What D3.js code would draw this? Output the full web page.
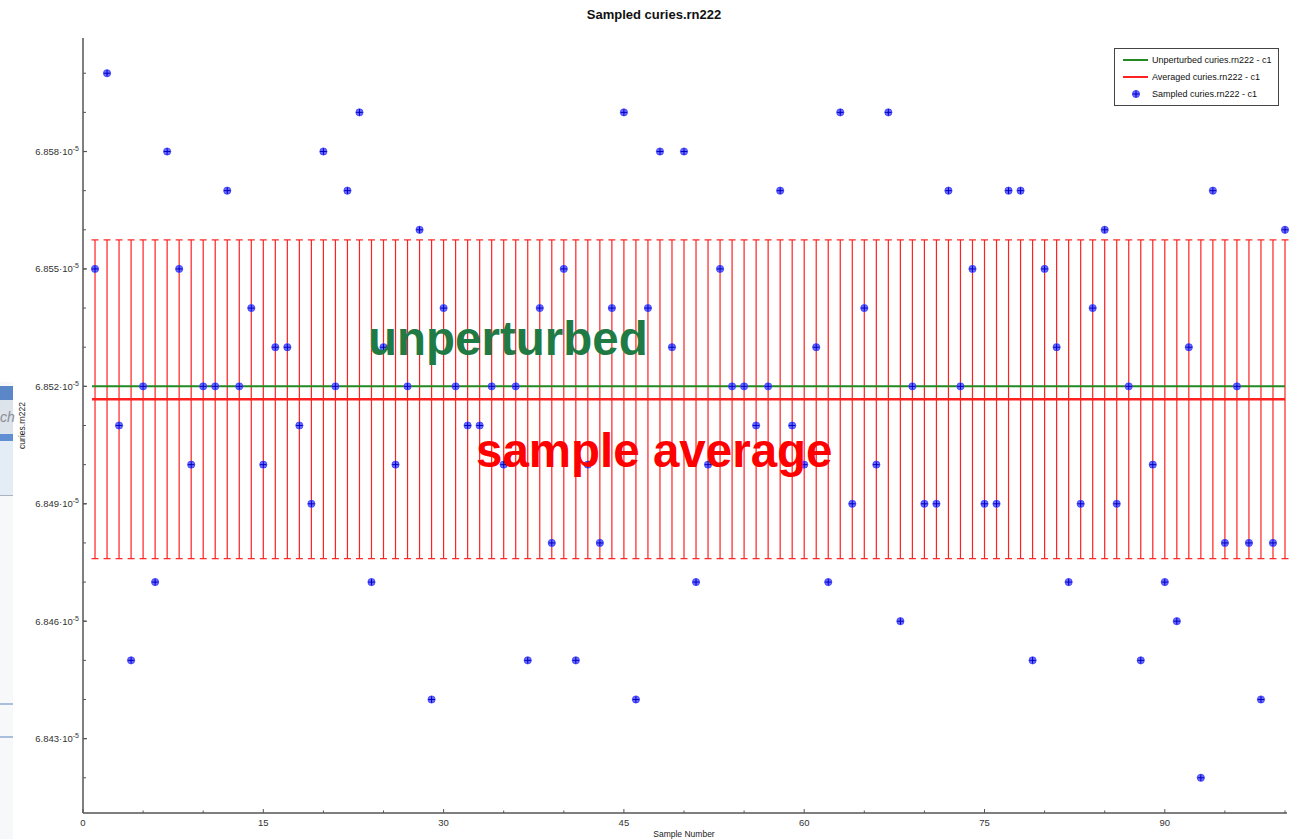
<!DOCTYPE html>
<html><head><meta charset="utf-8">
<script src="https://cdn.jsdelivr.net/npm/d3@7"></script>
<style>html,body{margin:0;padding:0;background:#fff;}svg{display:block;}</style>
</head><body>
<svg id="chart" width="1296" height="839"></svg>
<script>
// ---- data ----
const sampleNumbers = d3.range(1, 101);
// sampled values, mantissa in units of 1e-5
const sampled = [
6.855, 6.860, 6.851, 6.845, 6.852, 6.847, 6.858, 6.855, 6.850, 6.852,
6.852, 6.857, 6.852, 6.854, 6.850, 6.853, 6.853, 6.851, 6.849, 6.858,
6.852, 6.857, 6.859, 6.847, 6.853, 6.850, 6.852, 6.856, 6.844, 6.854,
6.852, 6.851, 6.851, 6.852, 6.850, 6.852, 6.845, 6.854, 6.848, 6.855,
6.845, 6.850, 6.848, 6.854, 6.859, 6.844, 6.854, 6.858, 6.853, 6.858,
6.847, 6.850, 6.855, 6.852, 6.852, 6.851, 6.852, 6.857, 6.851, 6.850,
6.853, 6.847, 6.859, 6.849, 6.854, 6.850, 6.859, 6.846, 6.852, 6.849,
6.849, 6.857, 6.852, 6.855, 6.849, 6.849, 6.857, 6.857, 6.845, 6.855,
6.853, 6.847, 6.849, 6.854, 6.856, 6.849, 6.852, 6.845, 6.850, 6.847,
6.846, 6.853, 6.842, 6.857, 6.848, 6.852, 6.848, 6.844, 6.848, 6.856];
const unperturbed = 6.852;
const yTickValues = [6.843, 6.846, 6.849, 6.852, 6.855, 6.858];
const xTickValues = [0, 15, 30, 45, 60, 75, 90];
const legendLabels = ["Unperturbed curies.rn222 - c1", "Averaged curies.rn222 - c1", "Sampled curies.rn222 - c1"];
const titleText = "Sampled curies.rn222";
const xLabel = "Sample Number";
const yLabel = "curies.rn222";

// derived statistics
const avg = d3.mean(sampled);
const std = Math.sqrt(d3.mean(sampled, v => (v - avg) * (v - avg)));

// ---- layout ----
const svg = d3.select("#chart");
const L = 83, R = 1285, T = 38, B = 813;
const x = d3.scaleLinear().domain([0, 100]).range([L, R]);
const ext = d3.extent(sampled), pad = (ext[1] - ext[0]) * 0.05;
const y = d3.scaleLinear().domain([ext[0] - pad, ext[1] + pad]).range([B, T]);
const FONT = "'Liberation Sans', Arial, sans-serif";

// left screenshot fragment
const frag = svg.append("g");
frag.append("rect").attr("x", 0).attr("y", 382).attr("width", 13).attr("height", 457).attr("fill", "#f7f8fa");
frag.append("rect").attr("x", 0).attr("y", 386).attr("width", 13).attr("height", 14).attr("fill", "#5b86c8");
frag.append("rect").attr("x", 0).attr("y", 400).attr("width", 13).attr("height", 34).attr("fill", "#dde3ea");
frag.append("text").attr("x", 0).attr("y", 422).attr("font-family", FONT).attr("font-size", 14).attr("font-style", "italic").attr("fill", "#8a8f96").text("ch");
frag.append("rect").attr("x", 0).attr("y", 434).attr("width", 13).attr("height", 7).attr("fill", "#5f8ed2");
frag.append("rect").attr("x", 0).attr("y", 441).attr("width", 13).attr("height", 54).attr("fill", "#e4ecf6");
frag.append("rect").attr("x", 0).attr("y", 495).attr("width", 13).attr("height", 1).attr("fill", "#a9b4c2");
frag.append("rect").attr("x", 0).attr("y", 703).attr("width", 13).attr("height", 2).attr("fill", "#a8bedb");
frag.append("rect").attr("x", 0).attr("y", 736).attr("width", 13).attr("height", 2).attr("fill", "#a8bedb");

// title
svg.append("text").attr("x", 654).attr("y", 19).attr("text-anchor", "middle")
  .attr("font-family", FONT).attr("font-weight", "bold").attr("font-size", 13).attr("fill", "#111").text(titleText);

// error bars
const eb = svg.append("g").attr("stroke", "#ff2020").attr("stroke-width", 1.2).attr("fill", "none");
sampleNumbers.forEach(n => {
  const cx = x(n), y1 = y(avg + std), y2 = y(avg - std);
  eb.append("line").attr("x1", cx).attr("x2", cx).attr("y1", y1).attr("y2", y2);
  eb.append("line").attr("x1", cx - 3.5).attr("x2", cx + 3.5).attr("y1", y1).attr("y2", y1);
  eb.append("line").attr("x1", cx - 3.5).attr("x2", cx + 3.5).attr("y1", y2).attr("y2", y2);
});

// unperturbed and average lines
svg.append("line").attr("x1", x(sampleNumbers[0]) - 3).attr("x2", R).attr("y1", y(unperturbed)).attr("y2", y(unperturbed))
  .attr("stroke", "#238a23").attr("stroke-width", 2);
svg.append("line").attr("x1", x(sampleNumbers[0]) - 3).attr("x2", R).attr("y1", y(avg)).attr("y2", y(avg))
  .attr("stroke", "#ff2020").attr("stroke-width", 2.4);

// points
const pts = svg.append("g");
function marker(g, cx, cy) {
  g.append("circle").attr("cx", cx).attr("cy", cy).attr("r", 3.6).attr("fill", "#6a6aff").attr("stroke", "#4040ff").attr("stroke-width", 0.8);
  g.append("line").attr("x1", cx - 3.3).attr("x2", cx + 3.3).attr("y1", cy).attr("y2", cy).attr("stroke", "#0000c0").attr("stroke-width", 1);
  g.append("line").attr("x1", cx).attr("x2", cx).attr("y1", cy - 3.3).attr("y2", cy + 3.3).attr("stroke", "#0000c0").attr("stroke-width", 1);
}
sampleNumbers.forEach((n, i) => marker(pts, x(n), y(sampled[i])));

// axes
const axisColor = "#555";
const ax = svg.append("g");
ax.append("line").attr("x1", L).attr("x2", L).attr("y1", T).attr("y2", B).attr("stroke", axisColor).attr("stroke-width", 1.5);
ax.append("line").attr("x1", L).attr("x2", R + 2).attr("y1", B).attr("y2", B).attr("stroke", axisColor).attr("stroke-width", 1.5);
// y minor ticks
d3.range(6842, 6861).map(v => v / 1000).forEach(v => {
  ax.append("line").attr("x1", L).attr("x2", L + 3).attr("y1", y(v)).attr("y2", y(v)).attr("stroke", axisColor).attr("stroke-width", 1);
});
yTickValues.forEach(v => {
  ax.append("line").attr("x1", L).attr("x2", L + 4).attr("y1", y(v)).attr("y2", y(v)).attr("stroke", axisColor).attr("stroke-width", 1.2);
  const t = ax.append("text").attr("x", 79).attr("y", y(v) + 3.5).attr("text-anchor", "end")
    .attr("font-family", FONT).attr("font-size", 9.5).attr("fill", "#333");
  t.append("tspan").text(v.toFixed(3) + "·10");
  t.append("tspan").attr("dy", -4).attr("font-size", 7).text("-5");
});
// x ticks
d3.range(0, 101, 5).forEach(v => {
  const major = v % 15 === 0;
  ax.append("line").attr("x1", x(v)).attr("x2", x(v)).attr("y1", B).attr("y2", B - (major ? 4 : 2.5)).attr("stroke", axisColor).attr("stroke-width", 1);
});
xTickValues.forEach(v => {
  ax.append("text").attr("x", x(v)).attr("y", 826).attr("text-anchor", "middle")
    .attr("font-family", FONT).attr("font-size", 9.5).attr("fill", "#333").text(v);
});
svg.append("text").attr("x", (L + R) / 2).attr("y", 837).attr("text-anchor", "middle")
  .attr("font-family", FONT).attr("font-size", 8.5).attr("fill", "#222").text(xLabel);
svg.append("text").attr("transform", `translate(25,${(T + B) / 2}) rotate(-90)`).attr("text-anchor", "middle")
  .attr("font-family", FONT).attr("font-size", 8.5).attr("fill", "#222").text(yLabel);

// annotations
svg.append("text").attr("x", 368).attr("y", 355).attr("font-family", FONT).attr("font-weight", "bold")
  .attr("font-size", 47.5).attr("fill", "#1f7a43").text("unperturbed");
svg.append("text").attr("x", 476).attr("y", 467).attr("font-family", FONT).attr("font-weight", "bold")
  .attr("font-size", 47.5).attr("fill", "#ff0000").text("sample average");

// legend
const lg = svg.append("g");
lg.append("rect").attr("x", 1114.5).attr("y", 48.5).attr("width", 164).attr("height", 57).attr("fill", "#fff").attr("stroke", "#444").attr("stroke-width", 1);
const lcolors = ["#238a23", "#ff2020"];
[60, 77].forEach((ly, i) => {
  lg.append("line").attr("x1", 1123).attr("x2", 1148).attr("y1", ly).attr("y2", ly).attr("stroke", lcolors[i]).attr("stroke-width", 2);
});
marker(lg, 1136, 94);
[60, 77, 94].forEach((ly, i) => {
  lg.append("text").attr("x", 1152).attr("y", ly + 3).attr("font-family", FONT).attr("font-size", 9).attr("fill", "#111").text(legendLabels[i]);
});
</script>
</body></html>
